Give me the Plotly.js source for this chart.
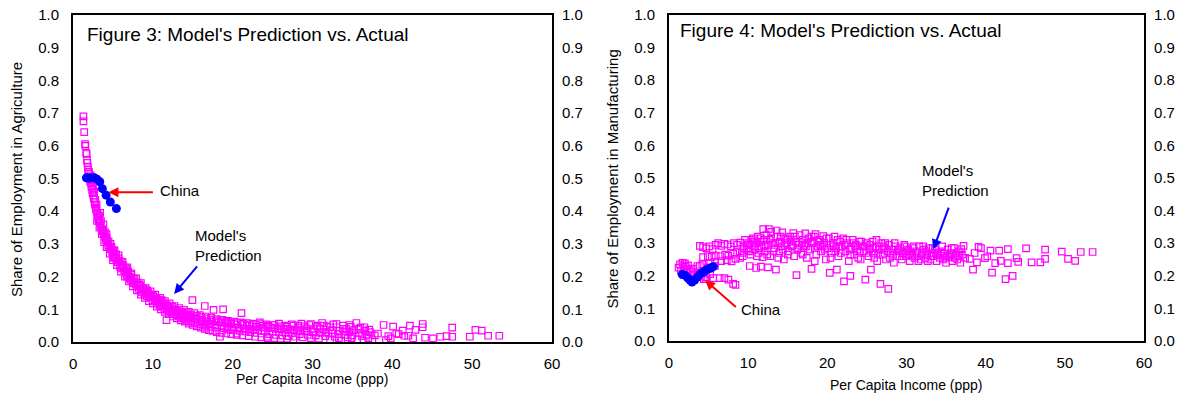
<!DOCTYPE html>
<html>
<head>
<meta charset="utf-8">
<script src="https://cdn.plot.ly/plotly-3.0.1.min.js"></script>
<style>html,body{margin:0;padding:0;background:#fff;}#chart{width:1182px;height:396px;}</style>
</head>
<body>
<div id="chart"></div>
<script>
// ---------- DATA ----------
var xTicks = [0, 10, 20, 30, 40, 50, 60];
var yTicks = [0, 0.1, 0.2, 0.3, 0.4, 0.5, 0.6, 0.7, 0.8, 0.9, 1.0];

// Figure 3: China actual (per capita income, agriculture share)
var chinaAgriX = [1.67, 2.0, 2.34, 2.67, 3.0, 3.35, 3.67, 4.14, 4.67, 5.43];
var chinaAgriY = [0.502, 0.501, 0.502, 0.502, 0.498, 0.490, 0.469, 0.449, 0.428, 0.408];

// Figure 3: model prediction [income, agriculture share]
var agriPred = [
[1.3,0.69],[1.3,0.675],[1.4,0.642],[1.5,0.605],[1.55,0.6],[1.65,0.578],[1.7,0.575],[1.75,0.556],[1.8,0.548],[1.85,0.535],
[1.9,0.526],[1.95,0.515],[2.0,0.52],[2.05,0.505],[2.1,0.498],[2.15,0.49],[2.2,0.51],[2.25,0.485],[2.3,0.475],[2.35,0.49],
[2.4,0.465],[2.45,0.455],[2.5,0.47],[2.55,0.448],[2.6,0.438],[2.65,0.46],[2.7,0.428],[2.75,0.42],[2.8,0.435],[2.85,0.41],
[2.9,0.404],[2.95,0.42],[3.0,0.395],[3.1,0.39],[3.15,0.38],[3.2,0.372],[3.3,0.385],[3.35,0.365],[3.45,0.355],[3.5,0.37],
[3.6,0.345],[3.7,0.338],[3.76,0.343],[3.85,0.33],[3.95,0.322],[4.0,0.335],[4.1,0.312],[4.2,0.318],[4.3,0.305],[4.4,0.295],
[4.45,0.308],[4.55,0.29],[4.7,0.284],[4.8,0.291],[4.9,0.275],[5.0,0.268],[5.05,0.28],[5.2,0.262],[5.3,0.255],[5.4,0.268],
[5.5,0.25],[5.6,0.244],[5.7,0.256],[5.85,0.238],[5.9,0.23],[6.0,0.245],[6.15,0.225],[6.3,0.232],[6.4,0.218],[6.5,0.212],
[6.6,0.226],[6.75,0.205],[6.8,0.2],[6.9,0.215],[7.05,0.196],[7.2,0.19],[7.3,0.205],[7.45,0.185],[7.6,0.18],[7.7,0.194],
[7.85,0.175],[8.0,0.17],[8.1,0.182],[8.25,0.162],[8.4,0.172],[8.5,0.158],[8.65,0.152],[8.8,0.165],[8.95,0.148],[9.1,0.155],
[9.25,0.14],[9.4,0.15],[9.55,0.136],[9.65,0.139],[9.8,0.145],[9.95,0.128],[10.1,0.138],[10.25,0.124],[10.4,0.132],[10.55,0.118],
[10.7,0.128],[10.85,0.112],[11.0,0.122],[11.15,0.108],[11.3,0.118],[11.45,0.102],[11.6,0.112],[11.7,0.067],[11.75,0.098],[11.9,0.108],
[12.05,0.094],[12.2,0.104],[12.35,0.09],[12.5,0.1],[12.65,0.085],[12.8,0.096],[12.95,0.082],[13.1,0.092],[13.25,0.078],[13.4,0.088],
[13.55,0.074],[13.7,0.086],[13.85,0.072],[14.0,0.082],[14.15,0.068],[14.3,0.08],[14.45,0.064],[14.6,0.078],[14.75,0.062],[14.95,0.128],
[15.0,0.074],[15.2,0.058],[15.4,0.072],[15.6,0.06],[15.8,0.068],[16.0,0.054],[16.2,0.066],[16.5,0.11],[16.6,0.05],[16.8,0.064],
[17.0,0.056],[17.2,0.046],[17.4,0.062],[17.6,0.098],[17.8,0.052],[18.0,0.044],[18.2,0.06],[18.4,0.016],[18.6,0.05],[18.8,0.1],
[18.9,0.042],[19.1,0.058],[19.3,0.048],[19.5,0.038],[19.7,0.056],[19.9,0.046],[20.1,0.036],[20.3,0.054],[20.5,0.026],[20.7,0.044],
[20.9,0.034],[21.1,0.088],[21.2,0.052],[21.4,0.042],[21.6,0.032],[21.8,0.05],[22.0,0.04],[22.2,0.03],[22.4,0.048],[22.6,0.038],
[22.8,0.028],[23.0,0.046],[23.2,0.036],[23.4,0.055],[23.6,0.026],[23.8,0.044],[24.0,0.034],[24.3,0.016],[24.4,0.05],[24.6,0.024],
[24.8,0.042],[25.0,0.032],[25.2,0.052],[25.4,0.022],[25.6,0.04],[25.8,0.03],[26.0,0.048],[26.2,0.02],[26.4,0.038],[26.6,0.028],
[26.8,0.046],[27.0,0.018],[27.2,0.036],[27.4,0.026],[27.6,0.05],[27.8,0.016],[28.0,0.034],[28.2,0.044],[28.4,0.024],[28.6,0.056],
[28.8,0.014],[29.0,0.032],[29.2,0.042],[29.4,0.022],[29.6,0.052],[29.8,0.012],[30.0,0.03],[30.2,0.04],[30.4,0.02],[30.6,0.05],
[30.8,0.01],[31.0,0.028],[31.2,0.058],[31.4,0.038],[31.6,0.018],[31.8,0.048],[32.0,0.026],[32.2,0.008],[32.4,0.036],[32.6,0.054],
[32.8,0.016],[33.0,0.045],[33.2,0.024],[33.4,0.034],[33.6,0.004],[33.8,0.05],[34.0,0.022],[34.2,0.04],[34.4,0.014],[34.6,0.03],
[34.8,0.046],[35.0,0.02],[35.2,0.036],[35.5,0.058],[35.6,0.008],[35.8,0.028],[36.0,0.044],[36.2,0.018],[36.4,0.004],[36.6,0.034],
[36.8,0.022],[37.0,0.012],[37.2,0.03],[37.5,0.006],[37.8,0.02],[38.2,0.026],[38.9,0.052],[39.2,0.006],[39.5,0.018],[39.8,0.011],
[40.1,0.047],[40.5,0.026],[40.8,0.024],[41.3,0.035],[41.5,0.019],[42.0,0.019],[42.2,0.05],[42.6,0.011],[42.9,0.037],[43.8,0.055],
[43.8,0.045],[44.1,0.013],[45.1,0.011],[46.0,0.016],[46.8,0.018],[47.5,0.044],[47.5,0.016],[49.7,0.016],[50.4,0.037],[51.2,0.035],
[52.0,0.019],[53.4,0.019],
[5.1,0.258],[5.8,0.248],[6.2,0.236],[6.7,0.222],[7.1,0.2],[7.5,0.194],[8.3,0.175],[8.9,0.16],[9.3,0.158],[10.0,0.142],
[10.6,0.13],[11.1,0.128],[11.8,0.112],[12.4,0.108],[13.0,0.098],[13.6,0.092],[14.2,0.088],[14.8,0.084],[15.5,0.08],[16.1,0.076],
[16.7,0.072],[17.3,0.068],[17.9,0.066],[18.5,0.064],[19.2,0.062],[19.8,0.06],[20.6,0.058],[21.3,0.056],[22.1,0.054],[22.9,0.052],
[23.7,0.05],[24.5,0.046],[25.3,0.044],[26.1,0.042],[26.9,0.04],[27.7,0.038],[28.5,0.036],[29.3,0.034],[30.1,0.032],[30.9,0.042],
[31.7,0.03],[32.5,0.026],[33.3,0.012],[34.1,0.032],[34.9,0.012],[35.8,0.04],[36.5,0.045],[37.1,0.038],
[3.0,0.37],[3.3,0.35],[3.6,0.33],[3.9,0.305],[4.2,0.29],[4.6,0.27],[5.0,0.25],[5.5,0.235],[6.0,0.215],[6.5,0.2],
[7.0,0.185],[7.5,0.17],[8.0,0.158],[8.5,0.145],[9.0,0.135],[9.5,0.125],[10.0,0.118],[10.5,0.108],[11.0,0.1],[11.5,0.092],
[12.0,0.085],[12.5,0.078],[13.0,0.072],[13.5,0.066],[14.0,0.062],[14.5,0.056],[15.0,0.052],[15.5,0.048],[16.0,0.044],[16.5,0.04],
[17.0,0.036],[17.5,0.034],[18.0,0.03],[18.6,0.028],[19.2,0.026],[19.8,0.024],[20.5,0.022],[21.2,0.02],[22.0,0.018],[22.8,0.016],
[23.6,0.014],[24.4,0.012],[25.2,0.012],[26.0,0.01],[26.8,0.01],[27.6,0.008],
[3.4,0.395],[3.8,0.36],[4.2,0.33],[4.7,0.3],[5.2,0.28],[5.7,0.265],[6.2,0.245],[6.8,0.228],[7.3,0.21],[7.9,0.195],
[8.5,0.18],[9.1,0.165],[9.7,0.155],[10.3,0.145],[10.9,0.135],[11.5,0.125],[12.1,0.118],[12.7,0.11],[13.3,0.104],[13.9,0.098],
[14.5,0.092],[15.2,0.088],[15.9,0.082],[16.6,0.078],[17.3,0.074],[18.0,0.07],[18.7,0.068],[19.4,0.065],[20.2,0.062],[21.0,0.06],
[21.8,0.058],[22.6,0.056],[23.4,0.06],[24.2,0.054],[25.0,0.052],[25.8,0.056],[26.6,0.05],[27.4,0.054],[28.2,0.05],[29.0,0.048],
[29.8,0.055],[30.6,0.046],[31.4,0.05],[32.2,0.045],[33.0,0.055],[33.8,0.04],[34.6,0.052]
];

// Figure 4: China actual (per capita income, manufacturing share)
var chinaMfgX = [1.68, 2.0, 2.35, 2.65, 2.9, 3.24, 3.6, 3.92, 4.25, 4.59, 4.95, 5.3, 5.6];
var chinaMfgY = [0.204, 0.202, 0.194, 0.187, 0.181, 0.187, 0.196, 0.205, 0.21, 0.216, 0.221, 0.224, 0.228];

// Figure 4: model prediction [income, manufacturing share]
var mfgPred = [
[1.2,0.225],[1.4,0.235],[1.5,0.215],[1.7,0.24],[1.8,0.23],[1.9,0.22],[2.0,0.238],[2.1,0.228],[2.3,0.218],[2.4,0.232],
[2.6,0.22],[2.8,0.212],[3.0,0.222],[3.2,0.205],[3.5,0.198],[3.8,0.21],[4.1,0.2],[4.4,0.19],[4.7,0.195],[3.6,0.23],[4.2,0.235],
[3.9,0.292],[4.3,0.288],[4.7,0.284],[5.1,0.29],[5.5,0.282],[5.9,0.295],[6.2,0.3],[6.6,0.292],[7.0,0.298],[7.4,0.296],
[7.8,0.29],[8.2,0.3],[8.6,0.295],[9.0,0.302],
[4.3,0.257],[4.9,0.26],[5.4,0.258],[5.9,0.262],[6.5,0.26],[7.1,0.265],[7.5,0.262],[8.1,0.268],[8.6,0.272],
[5.2,0.238],[5.8,0.242],[6.6,0.245],[7.3,0.248],[7.9,0.244],[8.4,0.252],[9.0,0.255],
[3.9,0.23],[4.9,0.226],[5.8,0.23],[5.6,0.193],[6.4,0.193],[7.0,0.193],[7.5,0.188],[8.1,0.175],[8.4,0.172],[4.6,0.19],[5.2,0.205],
[9.2,0.27],[9.4,0.29],[9.6,0.31],[9.8,0.28],[10.0,0.3],[10.2,0.23],[10.3,0.265],[10.5,0.295],[10.6,0.315],[10.8,0.28],
[11.0,0.224],[11.0,0.3],[11.2,0.32],[11.3,0.27],[11.5,0.305],[11.6,0.228],[11.7,0.29],[11.9,0.343],[12.0,0.31],[12.1,0.275],
[12.3,0.325],[12.5,0.226],[12.5,0.295],[12.6,0.343],[12.8,0.26],[12.9,0.315],[13.1,0.3],[13.3,0.285],[13.5,0.219],[13.6,0.339],
[13.7,0.32],[13.9,0.27],[14.0,0.305],[14.2,0.29],[14.3,0.333],[14.5,0.25],[14.7,0.315],
[14.9,0.3],[15.1,0.275],[15.3,0.32],[15.5,0.29],[15.7,0.331],[15.8,0.26],[16.0,0.305],[16.1,0.202],[16.3,0.285],[16.5,0.325],
[16.7,0.27],[16.9,0.31],[17.1,0.295],[17.2,0.33],[17.4,0.255],[17.6,0.315],[17.8,0.28],[18.0,0.221],[18.1,0.3],[18.3,0.32],
[18.5,0.328],[18.6,0.265],[18.8,0.29],[19.0,0.31],[19.2,0.275],[19.5,0.322],[19.6,0.3],[19.8,0.25],[20.0,0.285],[20.2,0.315],
[20.3,0.209],[20.5,0.27],[20.7,0.3],[20.9,0.32],[21.1,0.285],[21.2,0.219],[21.4,0.26],[21.6,0.305],[21.8,0.29],[22.0,0.315],
[22.1,0.183],[22.3,0.275],[22.5,0.3],[22.7,0.245],[22.9,0.2],[23.0,0.285],[23.2,0.31],[23.4,0.265],[23.6,0.295],[23.8,0.28],
[24.0,0.305],[24.2,0.25],[24.4,0.29],[24.6,0.275],[24.8,0.188],[25.0,0.3],[25.2,0.26],[25.4,0.285],[25.5,0.219],[25.7,0.305],
[25.9,0.27],[26.1,0.29],[26.3,0.245],[26.5,0.28],[26.7,0.175],[26.8,0.3],[27.0,0.265],
[27.2,0.285],[27.4,0.25],[27.7,0.16],[27.8,0.295],[28.0,0.27],[28.2,0.28],[28.4,0.24],[28.6,0.29],[28.8,0.26],[29.0,0.275],
[29.2,0.285],[29.4,0.25],[29.6,0.268],[29.8,0.29],[30.0,0.26],[30.2,0.28],[30.4,0.245],[30.6,0.27],[30.8,0.285],[31.0,0.255],
[31.2,0.275],[31.4,0.26],[31.6,0.29],[31.8,0.25],[32.0,0.27],[32.2,0.28],[32.4,0.255],[32.6,0.265],[32.8,0.285],[33.0,0.25],
[33.2,0.27],[33.4,0.26],[33.6,0.28],[33.8,0.245],[34.0,0.265],[34.2,0.255],[34.4,0.275],[34.6,0.25],[34.8,0.268],[35.0,0.24],
[35.2,0.28],[35.4,0.258],[35.6,0.27],[35.8,0.245],[36.0,0.285],[36.2,0.262],[36.4,0.25],[36.6,0.275],[36.8,0.24],[37.0,0.265],
[37.2,0.292],[37.4,0.255],
[38.0,0.252],[38.4,0.219],[38.6,0.27],[38.9,0.241],[39.1,0.289],[39.4,0.285],[39.9,0.254],[40.2,0.26],[40.6,0.277],[40.8,0.21],
[41.2,0.239],[41.7,0.277],[41.9,0.246],[42.5,0.19],[42.8,0.282],[42.8,0.239],[43.4,0.2],[43.9,0.254],[44.1,0.243],[45.1,0.284],
[45.8,0.241],[46.9,0.241],[47.5,0.28],[47.5,0.252],[49.6,0.274],[50.4,0.252],[51.3,0.246],[52.0,0.273],[53.5,0.273],
[9.5,0.285],[10.1,0.275],[10.7,0.305],[11.4,0.285],[11.8,0.257],[12.2,0.295],[12.7,0.31],[13.2,0.275],[13.8,0.3],[14.4,0.28],
[15.0,0.31],[15.6,0.295],[16.2,0.28],[16.8,0.3],[17.3,0.29],[17.9,0.305],[18.4,0.285],[19.1,0.295],[19.7,0.28],[20.4,0.295],
[21.0,0.275],[21.5,0.29],[22.2,0.295],[22.8,0.28],[23.5,0.29],[24.1,0.275],[24.7,0.29],[25.3,0.28],[25.8,0.285],[26.4,0.27],
[27.1,0.29],[27.6,0.275],[28.3,0.265],[28.9,0.28],[29.5,0.27],[30.1,0.275],[30.7,0.262],[31.3,0.27],[31.9,0.265],[32.5,0.275],
[33.1,0.26],[33.7,0.27],[34.3,0.262],[34.9,0.255],[35.5,0.265],[36.1,0.255],[36.7,0.26],
[9.3,0.26],[9.9,0.295],[10.4,0.31],[10.9,0.29],[11.1,0.26],[11.6,0.315],[12.0,0.29],[12.4,0.265],[12.9,0.335],[13.4,0.3],
[13.8,0.255],[14.1,0.32],[14.6,0.295],[15.0,0.265],[15.4,0.305],[15.9,0.32],[16.4,0.295],[16.9,0.265],[17.5,0.3],[18.0,0.32],
[18.4,0.245],[18.9,0.305],[19.4,0.29],[19.9,0.315],[20.4,0.255],[20.8,0.29],[21.3,0.31],[21.7,0.27],[22.4,0.31],[22.9,0.265],
[23.3,0.3],[23.9,0.255],[24.3,0.305],[24.9,0.27],[25.4,0.295],[25.9,0.255],[26.2,0.31],[26.9,0.28],[27.3,0.3],[27.9,0.255],
[28.5,0.3],[29.1,0.26],[29.7,0.295],[30.3,0.265],[30.9,0.29],[31.5,0.245],[32.1,0.29],[32.7,0.245],[33.3,0.285],[33.9,0.27],
[34.5,0.29],[35.1,0.262],[35.7,0.285],[36.3,0.27],[36.9,0.282]
];

// ---------- CHART ----------
var FONT = '"Liberation Sans", Arial, Helvetica, sans-serif';
var MAG = '#FF00FF', BLUE = '#0000FF', RED = '#FF0000';

function col(a, i) { return a.map(function (p) { return p[i]; }); }

var sq = {symbol: 'square-open', size: 6.5, color: MAG, line: {color: MAG, width: 1.2}};
var dot = {symbol: 'circle', size: 9, color: BLUE};

var traces = [
  {type: 'scatter', mode: 'markers', x: col(agriPred, 0), y: col(agriPred, 1), xaxis: 'x', yaxis: 'y', marker: sq, hoverinfo: 'skip'},
  {type: 'scatter', mode: 'markers', x: chinaAgriX, y: chinaAgriY, xaxis: 'x', yaxis: 'y', marker: dot, hoverinfo: 'skip'},
  {type: 'scatter', mode: 'markers', x: col(mfgPred, 0), y: col(mfgPred, 1), xaxis: 'x2', yaxis: 'y3', marker: sq, hoverinfo: 'skip'},
  {type: 'scatter', mode: 'markers', x: chinaMfgX, y: chinaMfgY, xaxis: 'x2', yaxis: 'y3', marker: dot, hoverinfo: 'skip'},
  {type: 'scatter', mode: 'markers', x: [], y: [], xaxis: 'x', yaxis: 'y2', hoverinfo: 'skip'},
  {type: 'scatter', mode: 'markers', x: [], y: [], xaxis: 'x2', yaxis: 'y4', hoverinfo: 'skip'}
];

var tickFont = {family: FONT, size: 15, color: '#000'};
function xAx(domain, anchor) {
  return {domain: domain, anchor: anchor, range: [0, 60], tickvals: xTicks, ticktext: xTicks.map(String),
    showgrid: false, zeroline: false, showline: true, mirror: true, linecolor: '#000', linewidth: 2,
    ticks: '', tickfont: tickFont, ticklabelstandoff: 7, fixedrange: true};
}
function yAx(domain, anchor, side, overlay) {
  var o = {domain: domain, anchor: anchor, range: [0, 1], tickvals: yTicks, ticktext: yTicks.map(function (v) { return v.toFixed(1); }),
    showgrid: false, zeroline: false, ticks: '', tickfont: tickFont, ticklabelstandoff: 9, side: side, fixedrange: true};
  if (overlay) { o.overlaying = overlay; o.showline = false; }
  else { o.showline = true; o.mirror = true; o.linecolor = '#000'; o.linewidth = 2; }
  return o;
}

var dL = [0.0618, 0.4670], dR = [0.5660, 0.9679];
var yDL = [0.1364, 0.9621], yDR = [0.1389, 0.9621];

function txt(t, x, y, xref, yref, extra) {
  var a = {text: t, x: x, y: y, xref: xref, yref: yref, showarrow: false, font: {family: FONT, size: 15, color: '#000'},
    xanchor: 'left', yanchor: 'middle', align: 'left'};
  for (var k in extra) a[k] = extra[k];
  return a;
}
function arrow(xr, yr, x, y, ax, ay, c) {
  return {text: '', x: x, y: y, ax: ax, ay: ay, xref: xr, yref: yr, axref: xr, ayref: yr, showarrow: true,
    arrowhead: 2, arrowsize: 1, arrowwidth: 2, arrowcolor: c, standoff: 0, startstandoff: 0};
}

var annotations = [
  txt("Figure 3: Model's Prediction vs. Actual", 1.5, 0.939, 'x', 'y', {font: {family: FONT, size: 19, color: '#000'}}),
  txt("Figure 4: Model's Prediction vs. Actual", 1.14, 0.954, 'x2', 'y3', {font: {family: FONT, size: 19, color: '#000'}}),
  txt('Per Capita Income (ppp)', 30, 0.043, 'x', 'paper', {xanchor: 'center', font: {family: FONT, size: 14, color: '#000'}}),
  txt('Per Capita Income (ppp)', 30, 0.029, 'x2', 'paper', {xanchor: 'center', font: {family: FONT, size: 14, color: '#000'}}),
  txt('Share of Employment in Agriculture', 0.0144, 0.5455, 'paper', 'paper', {xanchor: 'center', textangle: -90, font: {family: FONT, size: 15, color: '#000'}}),
  txt('Share of Employment in Manufacturing', 0.5186, 0.549, 'paper', 'paper', {xanchor: 'center', textangle: -90, font: {family: FONT, size: 15, color: '#000'}}),
  txt('China', 10.6, 0.4627, 'x', 'y'),
  txt("Model's<br>Prediction", 15.0, 0.2945, 'x', 'y'),
  txt('China', 8.88, 0.097, 'x2', 'y3'),
  txt("Model's<br>Prediction", 31.7, 0.491, 'x2', 'y3'),
  arrow('x', 'y', 4.43, 0.458, 10.19, 0.458, RED),
  arrow('x', 'y', 12.66, 0.147, 15.7, 0.2355, BLUE),
  arrow('x2', 'y3', 4.55, 0.187, 8.63, 0.100, RED),
  arrow('x2', 'y3', 33.38, 0.281, 35.4, 0.414, BLUE)
];

var layout = {
  width: 1182, height: 396, margin: {l: 0, r: 0, t: 0, b: 0}, paper_bgcolor: '#fff', plot_bgcolor: '#fff',
  showlegend: false, font: {family: FONT, color: '#000'},
  xaxis: xAx(dL, 'y'), xaxis2: xAx(dR, 'y3'),
  yaxis: yAx(yDL, 'x', 'left'), yaxis2: yAx(yDL, 'x', 'right', 'y'),
  yaxis3: yAx(yDR, 'x2', 'left'), yaxis4: yAx(yDR, 'x2', 'right', 'y3'),
  annotations: annotations
};

Plotly.newPlot('chart', traces, layout, {staticPlot: true, displayModeBar: false});
</script>
</body>
</html>
